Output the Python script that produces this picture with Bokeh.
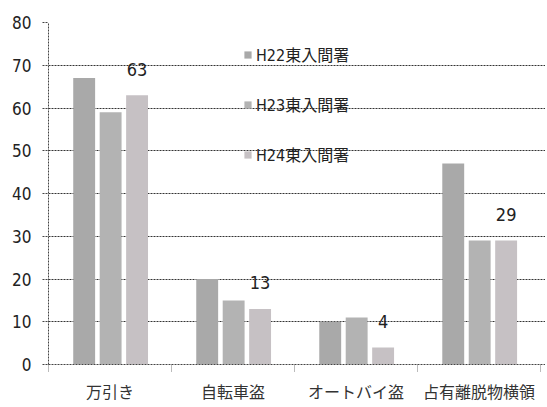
from bokeh.plotting import figure
from bokeh.models import ColumnDataSource, FixedTicker, Legend, LegendItem, Range1d
from bokeh.transform import dodge
from bokeh.core.properties import value
from bokeh.embed import file_html
from bokeh.resources import INLINE

categories = ["万引き", "自転車盗", "オートバイ盗", "占有離脱物横領"]
series = ["H22東入間署", "H23東入間署", "H24東入間署"]
h22 = [67, 20, 10, 47]
h23 = [59, 15, 11, 29]
h24 = [63, 13, 4, 29]
y_ticks = [0, 10, 20, 30, 40, 50, 60, 70, 80]

NUM_FONT = "'DejaVu Sans Condensed', 'Noto Sans CJK JP', sans-serif"
JP_FONT = "'DejaVu Sans Condensed', 'Noto Sans CJK JP', sans-serif"

xs = [i + 0.5 for i in range(len(categories))]
src = ColumnDataSource(dict(x=xs, h22=h22, h23=h23, h24=h24,
                            lbl=[str(v) for v in h24]))

p = figure(width=545, height=405, output_backend="svg", toolbar_location=None,
           x_range=Range1d(0, 4.04), y_range=Range1d(0, 80),
           min_border_left=48, min_border_right=0, min_border_top=22,
           min_border_bottom=41)
p.outline_line_color = None
p.background_fill_color = "white"

colors = ["#a9a9a9", "#b3b3b3", "#c6c1c4"]
offsets = [-0.21, 0.005, 0.22]
renderers = []
for col, c, off in zip(["h22", "h23", "h24"], colors, offsets):
    r = p.vbar(x=dodge("x", off, range=p.x_range), top=col, width=0.178,
               source=src, fill_color=c, line_color=None)
    renderers.append(r)

p.text(x=dodge("x", offsets[2], range=p.x_range), y="h24", text="lbl", source=src,
       y_offset=-26, text_align="center", text_baseline="middle",
       text_font=value(NUM_FONT), text_font_size="18px", text_color="#222222")

# axes
p.yaxis.ticker = FixedTicker(ticks=y_ticks)
p.yaxis.major_label_text_font = NUM_FONT
p.yaxis.major_label_text_font_size = "17px"
p.yaxis.major_label_text_color = "#222222"
p.yaxis.major_tick_out = 6
p.yaxis.major_tick_in = 0
p.yaxis.minor_tick_line_color = None
p.yaxis.major_label_standoff = 11
p.yaxis.axis_line_dash = "2 1"
p.yaxis.axis_line_color = "#444444"
p.yaxis.major_tick_line_dash = "2 1"
p.yaxis.major_tick_line_color = "#444444"

p.xaxis.ticker = FixedTicker(ticks=xs, minor_ticks=[0, 1, 2, 3, 4])
p.xaxis.major_label_overrides = {x: c for x, c in zip(xs, categories)}
p.xaxis.major_label_text_font = JP_FONT
p.xaxis.major_label_text_font_size = "16px"
p.xaxis.major_label_text_color = "#333333"
p.xaxis.major_tick_out = 0
p.xaxis.major_tick_in = 0
p.xaxis.major_tick_line_color = None
p.xaxis.minor_tick_out = 7
p.xaxis.minor_tick_in = 0
p.xaxis.minor_tick_line_color = "#777777"
p.xaxis.minor_tick_line_dash = "1 1"
p.xaxis.major_label_standoff = 11
p.xaxis.axis_line_dash = "2 1"
p.xaxis.axis_line_color = "#444444"

p.xgrid.grid_line_color = None
p.ygrid.ticker = FixedTicker(ticks=y_ticks)
p.ygrid.grid_line_color = "#333333"
p.ygrid.grid_line_dash = "2 1"
p.ygrid.grid_line_width = 1

legend = Legend(items=[LegendItem(label=s, renderers=[r]) for s, r in zip(series, renderers)],
                location=(195, 198), orientation="vertical",
                glyph_width=9, glyph_height=9, label_text_font=JP_FONT,
                label_text_font_size="16px", label_text_color="#222222",
                spacing=26, padding=0, margin=0, label_standoff=4,
                border_line_alpha=0, background_fill_alpha=0)
p.add_layout(legend, "center")

open("out.html", "w").write(file_html(p, INLINE))
